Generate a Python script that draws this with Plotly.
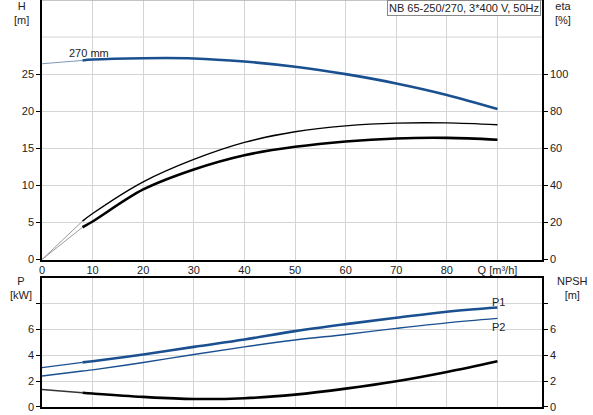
import plotly.graph_objects as go

# ---- data ----
q = [0, 8, 10, 20, 30, 40, 50, 60, 70, 80, 90]
head_270 = [26.4, 26.85, 26.97, 27.15, 27.12, 26.7, 26.0, 25.0, 23.75, 22.2, 20.3]
eta_upper = [0, 20.7, 24.8, 41.9, 54.0, 63.2, 68.9, 72.1, 73.6, 73.7, 72.7]
eta_lower = [0, 17.4, 20.5, 37.8, 48.6, 56.3, 60.8, 63.7, 65.3, 65.6, 64.6]
p1 = [3.05, 3.45, 3.54, 4.06, 4.65, 5.22, 5.87, 6.41, 6.9, 7.37, 7.7]
p2 = [2.4, 2.78, 2.87, 3.44, 4.06, 4.65, 5.18, 5.61, 6.08, 6.51, 6.85]
npsh = [1.35, 1.1, 1.04, 0.78, 0.62, 0.68, 0.96, 1.42, 1.99, 2.71, 3.54]

x_tickvals = [0, 10, 20, 30, 40, 50, 60, 70, 80, 90]
x_ticktext = ["0", "10", "20", "30", "40", "50", "60", "70", "80", "Q [m³/h]"]
h_ticks = [0, 5, 10, 15, 20, 25]
eta_ticks = [0, 20, 40, 60, 80, 100]
p_ticks = [0, 2, 4, 6, 8]
p_ticktext = ["0", "2", "4", "6", ""]

BLUE = "#1a5090"
LIGHTBLUE = "#7d98b8"
GRAY = "#9a9a9a"
TXT = "#222222"
FONT = "Liberation Sans, Arial, sans-serif"

fig = go.Figure()

def split_line(y, xa, ya, color_thin, color_thick, w_thin, w_thick):
    fig.add_trace(go.Scatter(x=q[:2], y=y[:2], mode="lines", xaxis=xa, yaxis=ya,
                             line=dict(color=color_thin, width=w_thin), hoverinfo="skip"))
    fig.add_trace(go.Scatter(x=q[1:], y=y[1:], mode="lines", xaxis=xa, yaxis=ya,
                             line=dict(color=color_thick, width=w_thick, shape="spline"),
                             hoverinfo="skip"))

# top panel
split_line(head_270, "x", "y", LIGHTBLUE, BLUE, 1, 2.6)
split_line(eta_upper, "x", "y2", GRAY, "#000000", 1, 1.4)
split_line(eta_lower, "x", "y2", GRAY, "#000000", 1, 2.6)
# bottom panel
split_line(p1, "x2", "y3", BLUE, BLUE, 1.3, 2.6)
fig.add_trace(go.Scatter(x=q, y=p2, mode="lines", xaxis="x2", yaxis="y3",
                         line=dict(color=BLUE, width=1.4, shape="spline"), hoverinfo="skip"))
split_line(npsh, "x2", "y4", "#333333", "#000000", 1.6, 2.6)

top_dom = [0.3624, 1.0]
bot_dom = [0.0, 0.3177]
grid = "#d4d4d4"
tickfont = dict(family=FONT, size=11, color=TXT)

xcommon = dict(range=[0, 98.8], tickvals=x_tickvals, showgrid=True, gridcolor=grid,
               gridwidth=1, zeroline=False, showline=True, linecolor="#000000",
               linewidth=1.5, ticks="", tickfont=tickfont, automargin=False)
ycommon = dict(zeroline=False, showline=True, linecolor="#000000", linewidth=1.5,
               ticks="outside", ticklen=4, tickcolor="#000000", tickfont=tickfont,
               automargin=False)

fig.update_layout(
    width=593, height=415,
    margin=dict(l=42, r=51, t=0, b=8),
    paper_bgcolor="white", plot_bgcolor="white",
    showlegend=False,
    font=dict(family=FONT, size=11, color=TXT),
    xaxis=dict(**xcommon, domain=[0, 1], anchor="y", ticktext=x_ticktext),
    xaxis2=dict(**xcommon, domain=[0, 1], anchor="y3", showticklabels=False,
                mirror=True),
    yaxis=dict(**ycommon, domain=top_dom, range=[0, 35], tickvals=h_ticks,
               showgrid=True, gridcolor=grid, anchor="x"),
    yaxis2=dict(**ycommon, overlaying="y", side="right", range=[0, 140],
                tickvals=eta_ticks, showgrid=False, anchor="x"),
    yaxis3=dict(**ycommon, domain=bot_dom, range=[0, 10], tickvals=p_ticks,
                ticktext=p_ticktext, showgrid=True, gridcolor=grid, anchor="x2"),
    yaxis4=dict(**ycommon, overlaying="y3", side="right", range=[0, 10],
                tickvals=p_ticks, ticktext=p_ticktext, showgrid=False, anchor="x2"),
)

# extra gridline (no tick) at H = 30 and top border
fig.add_shape(type="line", xref="x domain", yref="y", x0=0, x1=1, y0=30, y1=30,
              line=dict(color=grid, width=1), layer="below")
fig.add_shape(type="line", xref="x domain", yref="y", x0=0, x1=1, y0=35, y1=35,
              line=dict(color="#b0b0b0", width=1.5))

ann = []
def text(x, y, t, xref="paper", yref="paper", xanchor="center", yanchor="middle", **kw):
    ann.append(dict(x=x, y=y, text=t, xref=xref, yref=yref, showarrow=False,
                    xanchor=xanchor, yanchor=yanchor,
                    font=dict(family=FONT, size=11, color=TXT), **kw))

W = 593 - 42 - 51
H = 415 - 0 - 8
def px(xp):
    return (xp - 42) / W
def py(yp):
    return (H - yp) / H

text(px(21), py(13), "H<br>[m]")
text(px(563), py(13), "eta<br>[%]")
text(px(21), py(288), "P<br>[kW]")
text(px(572), py(288), "NPSH<br>[m]")
text(5.0, 26.75, "270 mm", xref="x", yref="y", xanchor="left", yanchor="bottom")
text(88.6, 8.15, "P1", xref="x2", yref="y3", xanchor="left")
text(88.6, 6.2, "P2", xref="x2", yref="y3", xanchor="left")
ann.append(dict(x=px(541), y=1.0, xref="paper", yref="paper", showarrow=False,
                text="NB 65-250/270, 3*400 V, 50Hz", xanchor="right", yanchor="top",
                bgcolor="white", bordercolor="#888888", borderwidth=1, borderpad=1,
                font=dict(family=FONT, size=11, color=TXT)))
fig.update_layout(annotations=ann)

fig.write_html("out.html", config={"displayModeBar": False},
               post_script="document.body.style.margin='0';document.body.style.overflow='hidden';")
